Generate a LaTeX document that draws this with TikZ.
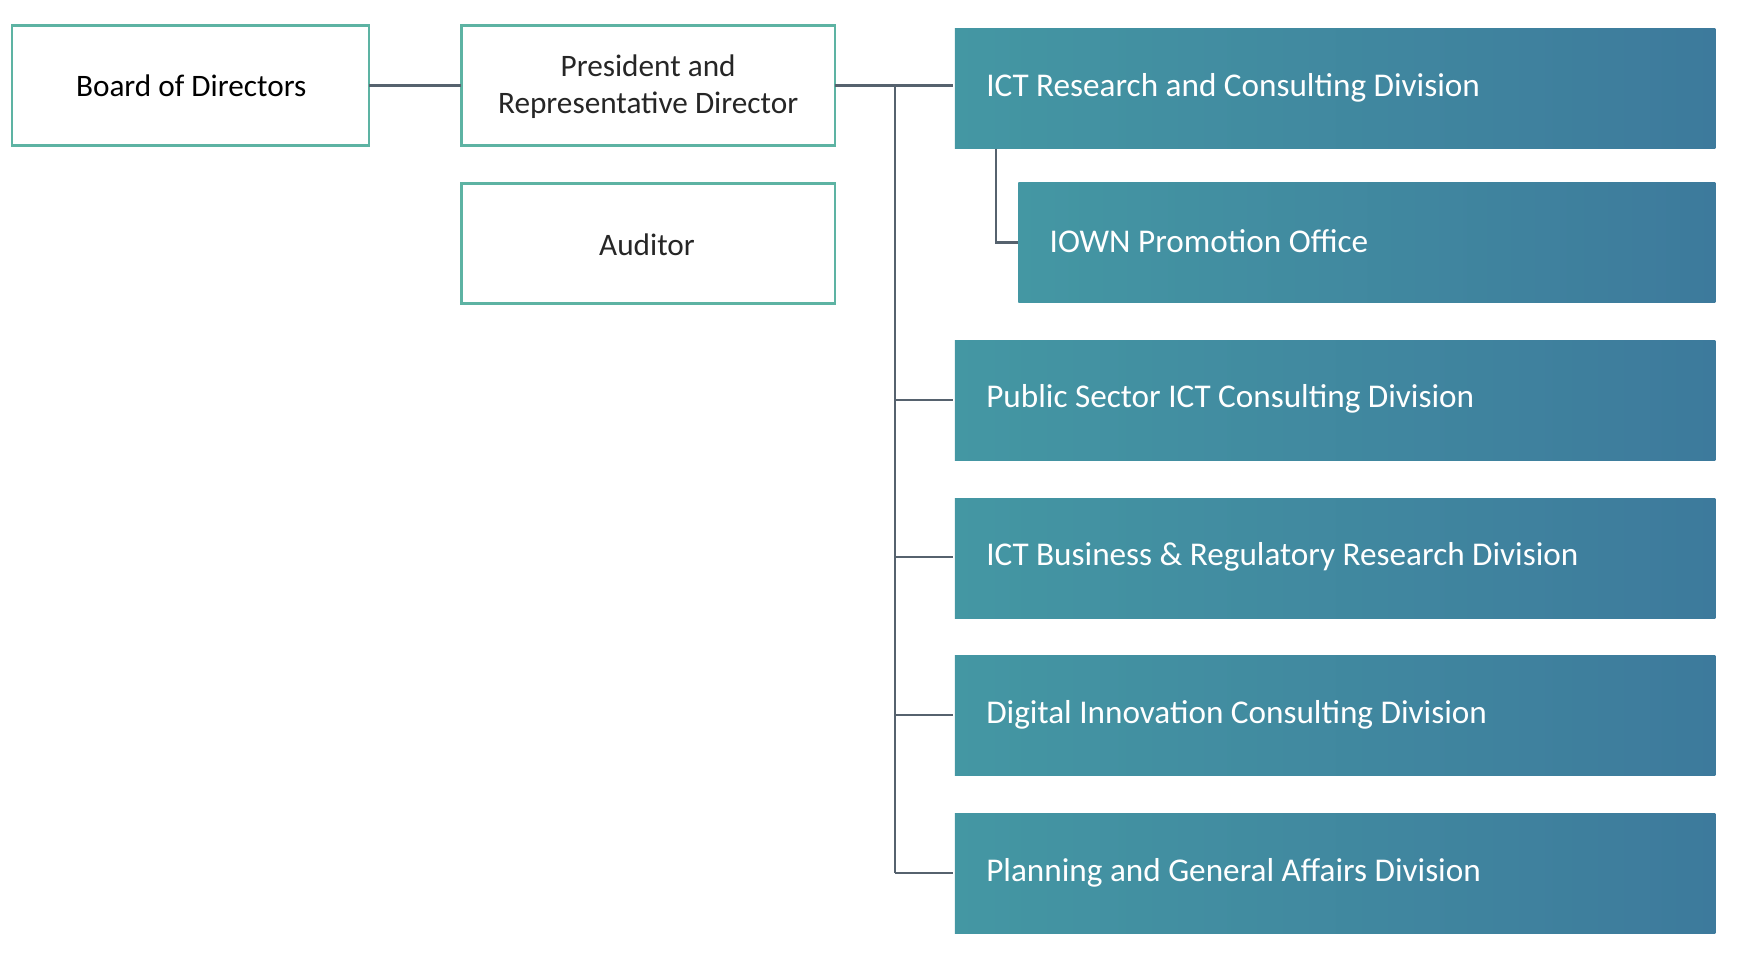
\documentclass[tikz,border=0pt]{standalone}
\usepackage{fontspec}
\setmainfont{Carlito}
\definecolor{edge}{HTML}{5DB3A3}
\definecolor{gl}{HTML}{4497A3}
\definecolor{gr}{HTML}{3D7A9C}
\definecolor{ln}{HTML}{56626E}
\begin{document}
\begin{tikzpicture}[x=0.02cm,y=-0.02cm,
  wbox/.style={draw=edge,line width=1.2pt,fill=white,align=center,font=\fontsize{16}{19}\selectfont,text=black!85},
  dbox/.style={left color=gl,right color=gr,draw=none,text=white,font=\fontsize{17}{20}\selectfont},
  conn/.style={draw=ln,line width=1.2pt}]
\useasboundingbox (0,0) rectangle (1567,873);
\path[wbox] (11,23) rectangle (332,131);
\node[font=\fontsize{16}{19}\selectfont,text=black] (bod) at (172,77) {Board of Directors};
\path[wbox] (415,23) rectangle (751,131);
\node[align=center,font=\fontsize{16}{19}\selectfont,text=black!85] (pres) at (583,78) {President and\\Representative Director};
\path[wbox] (415,165) rectangle (751,273);
\node[font=\fontsize{16}{19}\selectfont,text=black!85] (aud) at (582,220) {Auditor};
\coordinate (bodR) at (332,77); \coordinate (presL) at (415,77); \coordinate (presR) at (751,77);
\foreach \n/\xa/\ya/\t in {ict/859/26/{ICT Research and Consulting Division},
  iown/916/164/{IOWN Promotion Office},
  pub/859/306/{Public Sector ICT Consulting Division},
  bus/859/448/{ICT Business \& Regulatory Research Division},
  dig/859/590/{Digital Innovation Consulting Division},
  pla/859/732/{Planning and General Affairs Division}}{
  \path[dbox] (\xa,\ya) rectangle (1543,\ya+108);
  \node[anchor=west,text=white,font=\fontsize{17}{20}\selectfont] (\n) at (\xa+22,\ya+53) {\t};
}
\draw[conn] (bodR) -- (presL);
\draw[conn] (presR) -- (857,77);
\draw[conn] (805,77) -- (805,785);
\foreach \y in {360,501,643,785} \draw[conn] (805,\y) -- (857,\y);
\draw[conn] (896,134) -- (896,218) -- (916,218);
\end{tikzpicture}
\end{document}
